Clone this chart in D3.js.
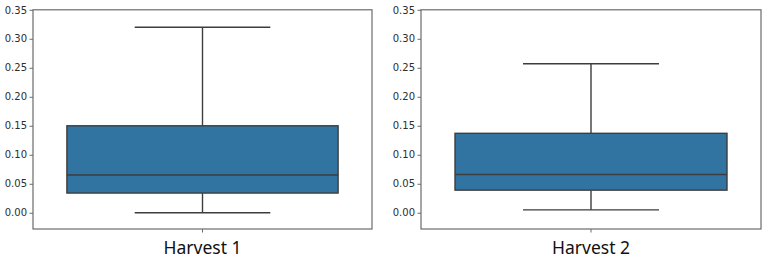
<!DOCTYPE html>
<html>
<head>
<meta charset="utf-8">
<script src="https://cdn.jsdelivr.net/npm/d3@7"></script>
<style>
  body { margin: 0; background: #fff; }
</style>
</head>
<body>
<div id="chart"></div>
<script>
// values
let categories = ["Harvest 1", "Harvest 2"];
let whiskerLow = [0.0, 0.005];
let q1 = [0.034, 0.039];
let median = [0.065, 0.066];
let q3 = [0.150, 0.137];
let whiskerHigh = [0.320, 0.257];
let yTicks = [0.00, 0.05, 0.10, 0.15, 0.20, 0.25, 0.30, 0.35];

let width = 765, height = 260;
let panels = [{ left: 33, right: 372 }, { left: 421, right: 761 }];
let plotTop = 9.8, plotBottom = 229;

let svg = d3.select("#chart")
    .append("svg")
    .attr("width", width)
    .attr("height", height);

let y = d3.scaleLinear()
    .domain([-0.028, 0.35])
    .range([plotBottom, plotTop]);

let boxFill = "#3274a1",
    lineColor = "#3d3d3d",
    spineColor = "#6b6b6b";

categories.forEach((cat, i) => {
    let p = panels[i];
    let x = d3.scaleBand()
        .domain([cat])
        .range([p.left, p.right])
        .paddingInner(0)
        .paddingOuter(0.125);

    let g = svg.append("g");

    // y axis
    let yAxis = g.append("g")
        .attr("transform", `translate(${p.left},0)`)
        .call(d3.axisLeft(y).tickValues(yTicks).tickFormat(d3.format(".2f")).tickSize(3.5).tickPadding(2.5));
    yAxis.select(".domain").remove();
    yAxis.selectAll(".tick line").attr("stroke", spineColor).attr("stroke-width", 1);
    yAxis.selectAll("text")
        .style("font-family", "DejaVu Sans")
        .style("font-size", "10px")
        .attr("fill", "#2e2e2e");

    // x axis
    let xAxis = g.append("g")
        .attr("transform", `translate(0,${plotBottom})`)
        .call(d3.axisBottom(x).tickSize(3.5).tickPadding(9.5));
    xAxis.select(".domain").remove();
    xAxis.selectAll(".tick line").attr("stroke", spineColor).attr("stroke-width", 1);
    xAxis.selectAll("text")
        .style("font-family", "Noto Sans")
        .style("font-size", "17.5px")
        .attr("fill", "#111");

    let cx = x(cat) + x.bandwidth() / 2;
    let bw = x.bandwidth();

    // whiskers
    g.append("line")
        .attr("x1", cx).attr("x2", cx)
        .attr("y1", y(whiskerHigh[i])).attr("y2", y(q3[i]))
        .attr("stroke", lineColor).attr("stroke-width", 1.4);
    g.append("line")
        .attr("x1", cx).attr("x2", cx)
        .attr("y1", y(q1[i])).attr("y2", y(whiskerLow[i]))
        .attr("stroke", lineColor).attr("stroke-width", 1.4);
    [whiskerHigh[i], whiskerLow[i]].forEach(v => {
        g.append("line")
            .attr("x1", cx - bw / 4).attr("x2", cx + bw / 4)
            .attr("y1", y(v)).attr("y2", y(v))
            .attr("stroke", lineColor).attr("stroke-width", 1.4);
    });

    // box
    g.append("rect")
        .attr("x", x(cat))
        .attr("y", y(q3[i]))
        .attr("width", bw)
        .attr("height", y(q1[i]) - y(q3[i]))
        .attr("fill", boxFill)
        .attr("stroke", lineColor)
        .attr("stroke-width", 1.4);

    g.append("line")
        .attr("x1", x(cat)).attr("x2", x(cat) + bw)
        .attr("y1", y(median[i])).attr("y2", y(median[i]))
        .attr("stroke", lineColor).attr("stroke-width", 1.4);

    // frame
    g.append("rect")
        .attr("x", p.left)
        .attr("y", plotTop)
        .attr("width", p.right - p.left)
        .attr("height", plotBottom - plotTop)
        .attr("fill", "none")
        .attr("stroke", spineColor)
        .attr("stroke-width", 1.2);
});
</script>
</body>
</html>
